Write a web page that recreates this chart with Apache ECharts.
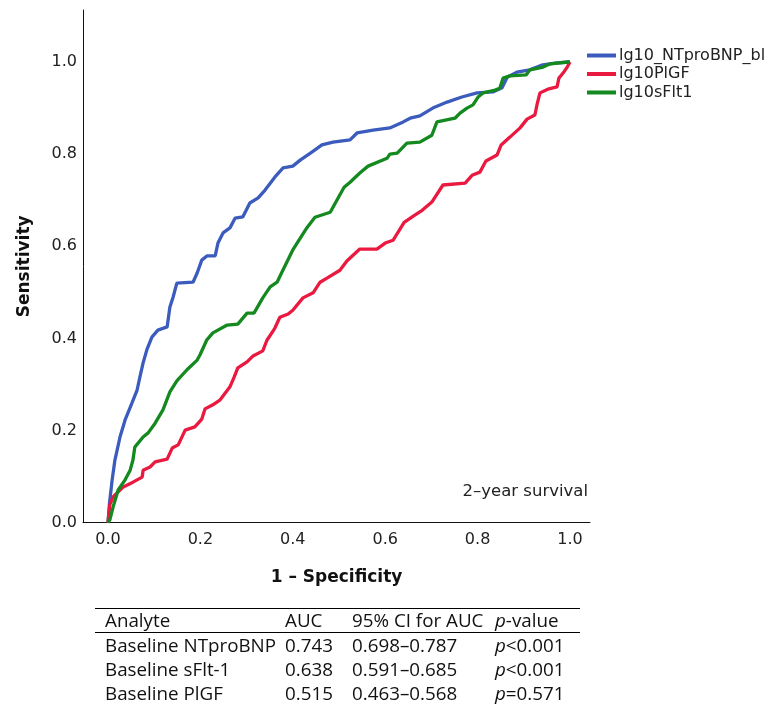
<!DOCTYPE html>
<html>
<head>
<meta charset="utf-8">
<script src="https://cdn.jsdelivr.net/npm/echarts@6/dist/echarts.min.js"></script>
<style>
html,body{margin:0;padding:0;background:#fff;}
#chart{width:772px;height:711px;}
</style>
</head>
<body>
<div id="chart"></div>
<script>
// ---- data (1 - specificity, sensitivity) ----
const seriesNames = ['lg10_NTproBNP_bl', 'lg10PlGF', 'lg10sFlt1'];

const ntprobnpFPR = [0,0.003,0.009,0.015,0.026,0.037,0.052,0.063,0.069,0.076,0.084,0.095,0.108,0.128,0.134,0.141,0.149,0.184,0.193,0.203,0.214,0.232,0.238,0.249,0.264,0.275,0.292,0.307,0.325,0.340,0.361,0.379,0.400,0.416,0.442,0.463,0.487,0.524,0.539,0.574,0.610,0.639,0.654,0.675,0.703,0.734,0.766,0.799,0.833,0.853,0.864,0.885,0.913,0.941,0.972,1];
const ntprobnpTPR = [0,0.040,0.093,0.136,0.186,0.223,0.260,0.288,0.316,0.347,0.375,0.403,0.418,0.425,0.468,0.490,0.520,0.522,0.542,0.570,0.579,0.579,0.607,0.629,0.640,0.661,0.664,0.694,0.705,0.722,0.750,0.770,0.774,0.787,0.805,0.820,0.826,0.831,0.846,0.852,0.857,0.870,0.878,0.883,0.900,0.913,0.924,0.933,0.935,0.944,0.967,0.978,0.983,0.994,0.998,1];

const plgfFPR = [0,0.004,0.011,0.022,0.032,0.054,0.074,0.076,0.091,0.102,0.128,0.139,0.152,0.167,0.188,0.203,0.210,0.227,0.242,0.264,0.273,0.281,0.301,0.314,0.335,0.344,0.361,0.372,0.390,0.400,0.422,0.444,0.459,0.474,0.502,0.517,0.545,0.582,0.600,0.617,0.628,0.641,0.660,0.680,0.701,0.725,0.773,0.788,0.805,0.818,0.842,0.851,0.870,0.892,0.907,0.924,0.929,0.935,0.952,0.972,0.976,0.985,0.994,1];
const plgfTPR = [0,0.039,0.056,0.067,0.077,0.088,0.099,0.114,0.121,0.132,0.138,0.162,0.169,0.201,0.208,0.225,0.247,0.256,0.266,0.295,0.316,0.336,0.349,0.362,0.373,0.396,0.422,0.446,0.453,0.461,0.488,0.499,0.522,0.531,0.548,0.568,0.594,0.594,0.607,0.613,0.631,0.652,0.665,0.678,0.696,0.733,0.737,0.754,0.761,0.785,0.798,0.820,0.837,0.857,0.876,0.885,0.909,0.933,0.941,0.946,0.965,0.976,0.989,1];

const sflt1FPR = [0,0.004,0.011,0.022,0.037,0.048,0.054,0.058,0.076,0.087,0.102,0.119,0.134,0.149,0.171,0.193,0.199,0.214,0.227,0.258,0.281,0.301,0.316,0.335,0.351,0.366,0.379,0.400,0.431,0.448,0.481,0.511,0.524,0.545,0.563,0.604,0.610,0.626,0.647,0.675,0.701,0.712,0.751,0.762,0.777,0.790,0.801,0.812,0.838,0.848,0.855,0.870,0.905,0.913,0.942,0.957,0.996,1];
const sflt1TPR = [0,0.006,0.034,0.071,0.093,0.114,0.136,0.164,0.186,0.195,0.216,0.245,0.284,0.308,0.332,0.353,0.364,0.397,0.412,0.429,0.431,0.455,0.455,0.488,0.512,0.522,0.549,0.592,0.641,0.663,0.674,0.728,0.739,0.759,0.774,0.791,0.800,0.802,0.824,0.826,0.841,0.870,0.878,0.889,0.900,0.907,0.924,0.933,0.939,0.943,0.965,0.970,0.972,0.983,0.989,0.996,1,1];

const axisTickValues = [0, 0.2, 0.4, 0.6, 0.8, 1.0];

// ---- table ----
const tableHeader = ['Analyte', 'AUC', '95% CI for AUC', 'p-value'];
const analytes = ['Baseline NTproBNP', 'Baseline sFlt-1', 'Baseline PlGF'];
const aucValues = ['0.743', '0.638', '0.515'];
const ciValues = ['0.698\u20130.787', '0.591\u20130.685', '0.463\u20130.568'];
const pValues = [['p', '<0.001'], ['p', '<0.001'], ['p', '=0.571']];

const colors = ['#3c5cbd', '#ea1940', '#14891f'];
const FONT = 'DejaVu Sans';
const TFONT = 'Open Sans';
const TSIZE = 18.8;

function zip(a, b) { return a.map((v, i) => [v, b[i]]); }

const chart = echarts.init(document.getElementById('chart'), null, {renderer: 'canvas'});

const colX = [105, 285, 352, 495];
const rowY = [622, 647, 671, 695];
const tableText = [];
const TOFF = 10;
const cellStyle = (text, x, y) => ({
  type: 'text', left: x, top: y - TOFF,
  style: {text: text, font: TSIZE + 'px "' + TFONT + '"', fill: '#111'}
});
const richStyle = {
  i: {fontFamily: TFONT, fontSize: TSIZE, fontStyle: 'italic', fill: '#111'},
  n: {fontFamily: TFONT, fontSize: TSIZE, fill: '#111'}
};
tableText.push(cellStyle(tableHeader[0], colX[0], rowY[0]));
tableText.push(cellStyle(tableHeader[1], colX[1], rowY[0]));
tableText.push(cellStyle(tableHeader[2], colX[2], rowY[0]));
tableText.push({
  type: 'text', left: colX[3], top: rowY[0] - TOFF,
  style: {text: '{i|p}{n|-value}', rich: richStyle}
});
for (let r = 0; r < analytes.length; r++) {
  const y = rowY[r + 1];
  tableText.push(cellStyle(analytes[r], colX[0], y));
  tableText.push(cellStyle(aucValues[r], colX[1], y));
  tableText.push(cellStyle(ciValues[r], colX[2], y));
  tableText.push({
    type: 'text', left: colX[3], top: y - TOFF,
    style: {text: '{i|' + pValues[r][0] + '}{n|' + pValues[r][1] + '}', rich: richStyle}
  });
}

const option = {
  backgroundColor: '#fff',
  animation: false,
  color: colors,
  grid: {left: 83, top: 10, width: 507, height: 512.7},
  legend: {
    orient: 'vertical',
    left: 587, top: 47.5,
    padding: 0,
    itemGap: 2.5,
    itemWidth: 29, itemHeight: 4,
    icon: 'rect',
    textStyle: {fontFamily: FONT, fontSize: 16, color: '#222', padding: [0, 0, 0, -2]},
    data: seriesNames
  },
  xAxis: {
    type: 'value',
    min: -0.0541, max: 1.0433,
    name: '1 \u2013 Specificity',
    nameLocation: 'middle',
    nameGap: 46,
    nameTextStyle: {fontFamily: FONT, fontSize: 17, fontWeight: 'bold', color: '#111'},
    axisLine: {show: true, onZero: false, lineStyle: {color: '#111', width: 1}},
    axisTick: {show: false},
    splitLine: {show: false},
    axisLabel: {
      customValues: axisTickValues,
      formatter: v => v.toFixed(1),
      margin: 9,
      fontFamily: FONT, fontSize: 16, color: '#222'
    }
  },
  yAxis: {
    type: 'value',
    min: 0, max: 1.1129,
    name: 'Sensitivity',
    nameLocation: 'middle',
    nameGap: 50,
    nameTextStyle: {fontFamily: FONT, fontSize: 17, fontWeight: 'bold', color: '#111'},
    axisLine: {show: true, onZero: false, lineStyle: {color: '#111', width: 1}},
    axisTick: {show: false},
    splitLine: {show: false},
    axisLabel: {
      customValues: axisTickValues,
      formatter: v => v.toFixed(1),
      margin: 6,
      fontFamily: FONT, fontSize: 16, color: '#222'
    }
  },
  series: [
    {name: seriesNames[0], type: 'line', data: zip(ntprobnpFPR, ntprobnpTPR), showSymbol: false, symbol: 'none', lineStyle: {width: 3.3, color: colors[0]}, z: 2},
    {name: seriesNames[1], type: 'line', data: zip(plgfFPR, plgfTPR), showSymbol: false, symbol: 'none', lineStyle: {width: 3.3, color: colors[1]}, z: 3},
    {name: seriesNames[2], type: 'line', data: zip(sflt1FPR, sflt1TPR), showSymbol: false, symbol: 'none', lineStyle: {width: 3.3, color: colors[2]}, z: 4}
  ],
  graphic: [
    {type: 'text', right: 772 - 588, top: 483,
     style: {text: '2\u2013year survival', font: '16.5px "' + FONT + '"', fill: '#222', textAlign: 'right'}},
    {type: 'line', shape: {x1: 95, y1: 608.5, x2: 580, y2: 608.5}, style: {stroke: '#000', lineWidth: 1}},
    {type: 'line', shape: {x1: 95, y1: 632.5, x2: 580, y2: 632.5}, style: {stroke: '#000', lineWidth: 1}}
  ].concat(tableText)
};

chart.setOption(option);
</script>
</body>
</html>
